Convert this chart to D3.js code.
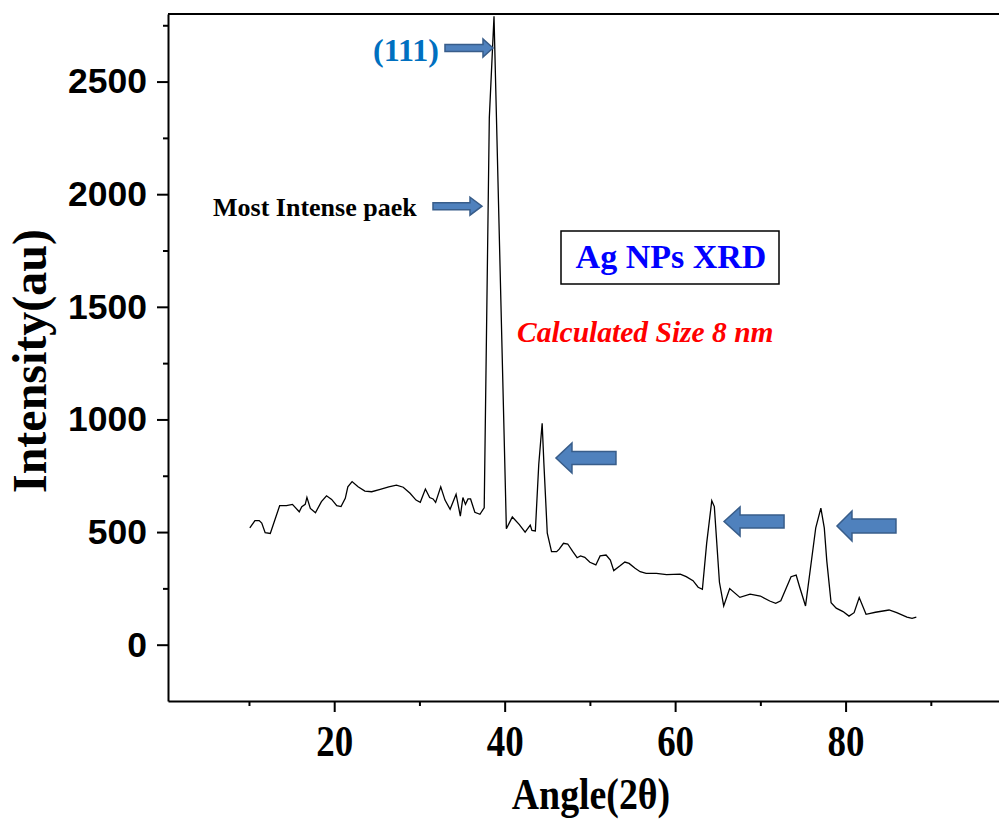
<!DOCTYPE html>
<html>
<head>
<meta charset="utf-8">
<script src="https://cdn.jsdelivr.net/npm/d3@7/dist/d3.min.js"></script>
<style>
  body { margin: 0; background: #fff; }
  svg { display: block; }
</style>
</head>
<body>
<script>
// XRD pattern
const angles = [10.1, 10.7, 11.2, 11.5, 11.9, 12.5, 13.6, 14.4, 15.1, 15.9, 16.2, 16.6, 16.8, 17.2, 17.8, 18.5, 19.1, 19.7, 20.3, 20.8,
  21.3, 21.6, 22.1, 22.8, 23.6, 24.4, 25.4, 26.4, 27.3, 28.1, 28.9, 29.6, 30.1, 30.7, 31.2, 31.6, 31.9, 32.5, 33.0, 33.6,
  34.3, 34.8, 35.1, 35.4, 35.7, 36.0, 36.5, 37.1, 37.6, 38.2, 38.75, 40.2, 40.9, 41.7, 42.4, 43.0, 43.2, 43.6, 44.0, 44.4,
  44.6, 45.0, 45.5, 46.1, 46.4, 46.9, 47.4, 48.0, 48.5, 48.9, 49.4, 50.0, 50.7, 51.2, 51.9, 52.4, 52.8, 53.5, 54.1, 54.6,
  55.3, 55.9, 56.6, 57.8, 59.0, 60.6, 61.3, 62.1, 62.7, 63.2, 63.7, 64.3, 64.6, 65.2, 65.7, 66.4, 67.6, 68.8, 70.0, 71.1,
  71.8, 72.4, 73.6, 74.2, 74.6, 75.3, 76.5, 77.1, 77.5, 77.8, 78.3, 78.9, 79.7, 80.4, 81.0, 81.6, 82.4, 83.5, 85.1, 86.0,
  87.2, 87.8, 88.3];
const intensity = [519, 551, 551, 540, 497, 494, 617, 617, 623, 590, 613, 623, 654, 605, 586, 635, 661, 645, 617, 613,
  650, 701, 724, 701, 682, 679, 690, 701, 708, 699, 672, 642, 632, 691, 653, 647, 632, 701, 642, 601,
  668, 571, 653, 623, 647, 647, 588, 579, 608, 2340, 2790, 515, 567, 534, 500, 531, 507, 505, 800, 983,
  806, 495, 413, 413, 424, 450, 447, 413, 386, 394, 388, 366, 354, 394, 398, 376, 329, 349, 367, 361,
  339, 324, 317, 317, 311, 313, 302, 284, 255, 246, 450, 639, 613, 277, 172, 249, 210, 224, 216, 194,
  184, 195, 302, 309, 257, 172, 519, 606, 519, 370, 186, 162, 147, 127, 142, 209, 135, 144, 154, 142,
  122, 117, 122];

const xMajor = [20, 40, 60, 80];
const xMinor = [10, 30, 50, 70, 90];
const yMajor = [0, 500, 1000, 1500, 2000, 2500];
const yMinor = [250, 750, 1250, 1750, 2250, 2750];

// arrows: tip in data units, pointing right (1) or left (-1)
const arrowTips = [
  { a: 38.63, v: 2649, dir: 1, len: 48, head: 10, hh: 18, sh: 7 },
  { a: 37.34, v: 1947, dir: 1, len: 49, head: 12, hh: 18, sh: 7 },
  { a: 46.02, v: 829, dir: -1, len: 60, head: 16, hh: 30, sh: 13 },
  { a: 65.74, v: 547, dir: -1, len: 60, head: 16, hh: 29, sh: 13 },
  { a: 78.99, v: 527, dir: -1, len: 59, head: 15, hh: 30, sh: 14 }
];

const W = 999, H = 821;
const serif = '"Liberation Serif", "Times New Roman", serif';
const sans = '"Liberation Sans", Arial, sans-serif';

const svg = d3.select('body').append('svg')
  .attr('width', W).attr('height', H)
  .attr('xmlns', 'http://www.w3.org/2000/svg');

const x = d3.scaleLinear().domain([0.5, 98]).range([168, 999]);
const y = d3.scaleLinear().domain([-250, 2800]).range([701, 14]);

// top frame line
svg.append('line')
  .attr('x1', x(0.5)).attr('x2', x(98))
  .attr('y1', y(2800)).attr('y2', y(2800))
  .attr('stroke', '#000').attr('stroke-width', 2);

// y axis
const gy = svg.append('g').attr('transform', `translate(${x(0.5)},0)`);
gy.call(d3.axisLeft(y).tickValues(yMajor).tickSize(11).tickSizeOuter(0).tickPadding(10).tickFormat(d3.format('d')));
gy.append('g').call(d3.axisLeft(y).tickValues(yMinor).tickSize(5).tickSizeOuter(0).tickFormat(''))
  .select('.domain').remove();
gy.selectAll('.domain').attr('stroke-width', 2);
gy.selectAll('.tick line').attr('stroke-width', 2);
gy.selectAll('.tick text')
  .attr('font-family', sans).attr('font-weight', 'bold').attr('font-size', 35.5).attr('fill', '#000');

// x axis
const gx = svg.append('g').attr('transform', `translate(0,${y(-250)})`);
gx.call(d3.axisBottom(x).tickValues(xMajor).tickSize(11).tickSizeOuter(0).tickPadding(13));
gx.append('g').call(d3.axisBottom(x).tickValues(xMinor).tickSize(5).tickSizeOuter(0).tickFormat(''))
  .select('.domain').remove();
gx.selectAll('.domain').attr('stroke-width', 2);
gx.selectAll('.tick line').attr('stroke-width', 2);
gx.selectAll('.tick text')
  .attr('font-family', serif).attr('font-weight', 'bold').attr('font-size', 44).attr('fill', '#000')
  .attr('transform', 'scale(0.84,1)');

// axis titles
svg.append('text')
  .attr('transform', `translate(591,809) scale(0.86,1)`)
  .attr('text-anchor', 'middle')
  .attr('font-family', serif).attr('font-weight', 'bold').attr('font-size', 44)
  .text('Angle(2θ)');

svg.append('text')
  .attr('transform', 'translate(46,361) rotate(-90)')
  .attr('text-anchor', 'middle')
  .attr('font-family', serif).attr('font-weight', 'bold').attr('font-size', 48)
  .text('Intensity(au)');

// the pattern
const pts = angles.map((a, i) => [a, intensity[i]]);
svg.append('path')
  .datum(pts)
  .attr('fill', 'none')
  .attr('stroke', '#000')
  .attr('stroke-width', 1.3)
  .attr('d', d3.line().x(d => x(d[0])).y(d => y(d[1])));

// block arrows
function arrowPath(t) {
  const tx = x(t.a), ty = y(t.v), s = t.dir;
  const p = [
    [tx - s * t.len, ty - t.sh / 2],
    [tx - s * t.head, ty - t.sh / 2],
    [tx - s * t.head, ty - t.hh / 2],
    [tx, ty],
    [tx - s * t.head, ty + t.hh / 2],
    [tx - s * t.head, ty + t.sh / 2],
    [tx - s * t.len, ty + t.sh / 2]
  ];
  return 'M' + p.map(d => d.join(',')).join('L') + 'Z';
}
svg.selectAll('.arrow')
  .data(arrowTips)
  .enter().append('path')
  .attr('class', 'arrow')
  .attr('d', arrowPath)
  .attr('fill', '#4f81bd')
  .attr('stroke', '#385d8a')
  .attr('stroke-width', 1.5);

// notes
svg.append('text')
  .attr('x', 373).attr('y', 61)
  .attr('font-family', serif).attr('font-weight', 'bold').attr('font-size', 32)
  .attr('fill', '#0070c0')
  .text('(111)');

svg.append('text')
  .attr('x', 213).attr('y', 216)
  .attr('font-family', serif).attr('font-weight', 'bold').attr('font-size', 26)
  .attr('fill', '#000')
  .text('Most Intense paek');

svg.append('rect')
  .attr('x', 561).attr('y', 231).attr('width', 218).attr('height', 53)
  .attr('fill', '#fff').attr('stroke', '#000').attr('stroke-width', 1.5);
svg.append('text')
  .attr('x', 671).attr('y', 268)
  .attr('text-anchor', 'middle')
  .attr('font-family', serif).attr('font-weight', 'bold').attr('font-size', 34)
  .attr('fill', '#0000ff')
  .text('Ag NPs XRD');

svg.append('text')
  .attr('x', 517).attr('y', 342)
  .attr('font-family', serif).attr('font-weight', 'bold').attr('font-style', 'italic').attr('font-size', 29.5)
  .attr('fill', '#ff0000')
  .text('Calculated Size 8 nm');
</script>
</body>
</html>
